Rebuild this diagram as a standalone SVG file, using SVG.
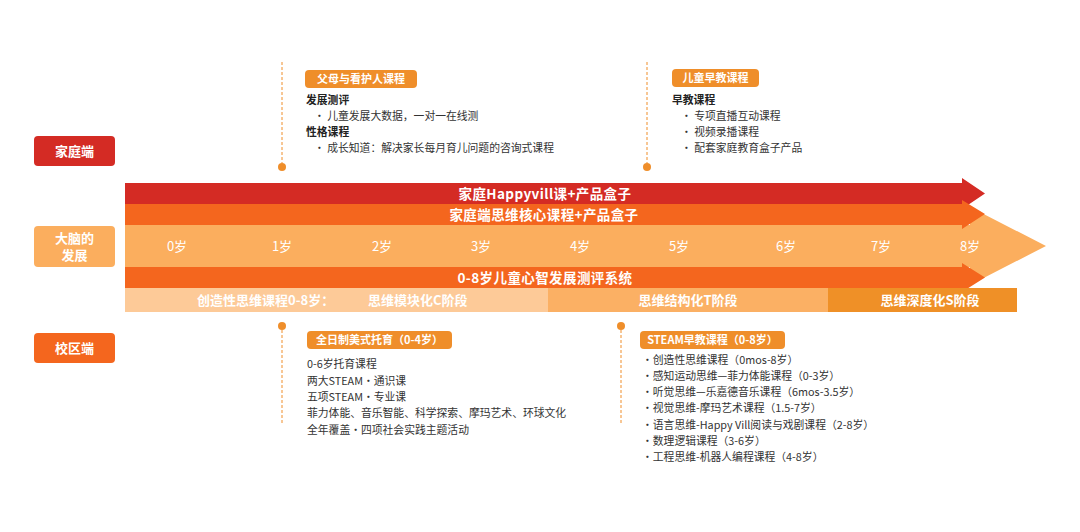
<svg xmlns="http://www.w3.org/2000/svg" width="1080" height="532" viewBox="0 0 1080 532">
<style>
text{font-family:"Noto Sans CJK SC","Noto Sans",sans-serif}
.lbl{fill:#fff;font-size:13px;font-weight:bold;text-anchor:middle}
.bar{fill:#fff;font-size:13.5px;font-weight:bold;text-anchor:middle;letter-spacing:0.4px}
.age{fill:#fff;font-size:13px;text-anchor:middle}
.band{fill:#fff;font-size:13px;font-weight:bold}
.tag{fill:#fff;font-size:11px;font-weight:bold}
.b{fill:#333;font-size:10.8px}
.h{fill:#222;font-size:10.8px;font-weight:bold}
.dash{stroke:#EF8E2A;stroke-width:1;stroke-dasharray:3 2;fill:none}
.dot{fill:#EF8E2A}
.tagbox{fill:#EF8E2A}
</style>
<rect width="1080" height="532" fill="#fff"/>

<g id="label-home"><rect x="34" y="136" width="81" height="30" rx="4" fill="#D42B24"/><text class="lbl" x="74.5" y="156">家庭端</text></g>
<g id="label-brain"><rect x="34" y="226" width="81" height="41" rx="4" fill="#FBAE5E"/><text class="lbl" x="74.5" y="243">大脑的</text><text class="lbl" x="74.5" y="260">发展</text></g>
<g id="label-campus"><rect x="34" y="333" width="81" height="30" rx="4" fill="#F4661E"/><text class="lbl" x="74.5" y="353">校区端</text></g>

<g id="timeline">
<polygon points="125,225 970,225 970,207 1046,246 970,285 970,267 125,267" fill="#FBAE5E"/>
<polygon points="125,183 962,183 962,178 985,193.5 962,209 962,204 125,204" fill="#D42B24"/>
<polygon points="125,204 962,204 962,200 985,214 962,229 962,225 125,225" fill="#F4661E"/>
<polygon points="125,267 962,267 962,263 985,277.5 962,292 962,288 125,288" fill="#F4661E"/>
<rect x="125" y="288" width="423" height="24" fill="#FDCA98"/>
<rect x="548" y="288" width="280" height="24" fill="#FBB064"/>
<rect x="828" y="288" width="189" height="24" fill="#EF9027"/>
<text class="bar" x="545" y="198.5">家庭Happyvill课+产品盒子</text>
<text class="bar" x="544" y="219.5">家庭端思维核心课程+产品盒子</text>
<text class="bar" x="545" y="282.5">0-8岁儿童心智发展测评系统</text>
<text class="age" x="177" y="251">0岁</text>
<text class="age" x="282" y="251">1岁</text>
<text class="age" x="382" y="251">2岁</text>
<text class="age" x="481" y="251">3岁</text>
<text class="age" x="580" y="251">4岁</text>
<text class="age" x="679" y="251">5岁</text>
<text class="age" x="786" y="251">6岁</text>
<text class="age" x="881" y="251">7岁</text>
<text class="age" x="970" y="251">8岁</text>
<text class="band" x="197" y="305">创造性思维课程0-8岁：</text>
<text class="band" x="368" y="305" font-weight="normal">思维模块化C阶段</text>
<text class="band" x="688" y="305" text-anchor="middle">思维结构化T阶段</text>
<text class="band" x="930" y="305" text-anchor="middle">思维深度化S阶段</text>
</g>

<g id="connectors">
<line class="dash" x1="282" y1="62" x2="282" y2="163"/>
<line class="dash" x1="647" y1="62" x2="647" y2="163"/>
<line class="dash" x1="282" y1="330" x2="282" y2="424"/>
<line class="dash" x1="621" y1="330" x2="621" y2="424"/>
<circle class="dot" cx="282" cy="167" r="4"/>
<circle class="dot" cx="647" cy="167" r="4"/>
<circle class="dot" cx="282" cy="326" r="4"/>
<circle class="dot" cx="621" cy="326" r="4"/>
</g>

<g id="callout-parents">
<rect class="tagbox" x="305" y="70" width="112" height="18" rx="4"/>
<text class="tag" x="361" y="83" text-anchor="middle">父母与看护人课程</text>
<text class="h" x="306" y="104">发展测评</text>
<text class="b" x="314" y="120">•  儿童发展大数据，一对一在线测</text>
<text class="h" x="306" y="136">性格课程</text>
<text class="b" x="314" y="152">•  成长知道：解决家长每月育儿问题的咨询式课程</text>
</g>

<g id="callout-early">
<rect class="tagbox" x="672" y="69" width="87" height="18" rx="4"/>
<text class="tag" x="715.5" y="82" text-anchor="middle">儿童早教课程</text>
<text class="h" x="672" y="104">早教课程</text>
<text class="b" x="681" y="120">•  专项直播互动课程</text>
<text class="b" x="681" y="136">•  视频录播课程</text>
<text class="b" x="681" y="152">•   配套家庭教育盒子产品</text>
</g>

<g id="callout-daycare">
<rect class="tagbox" x="307" y="331" width="145" height="18" rx="4"/>
<text class="tag" x="379.5" y="344" text-anchor="middle">全日制美式托育（0-4岁）</text>
<text class="b" x="307" y="368">0-6岁托育课程</text>
<text class="b" x="307" y="385">两大STEAM·通识课</text>
<text class="b" x="307" y="401">五项STEAM·专业课</text>
<text class="b" x="307" y="417">菲力体能、音乐智能、科学探索、摩玛艺术、环球文化</text>
<text class="b" x="307" y="434">全年覆盖·四项社会实践主题活动</text>
</g>

<g id="callout-steam">
<rect class="tagbox" x="640" y="331" width="145" height="18" rx="4"/>
<text class="tag" x="712.5" y="344" text-anchor="middle">STEAM早教课程（0-8岁）</text>
<text class="b" x="642" y="364">·创造性思维课程（0mos-8岁）</text>
<text class="b" x="642" y="380">·感知运动思维—菲力体能课程（0-3岁）</text>
<text class="b" x="642" y="396">·听觉思维—乐嘉德音乐课程（6mos-3.5岁）</text>
<text class="b" x="642" y="412">·视觉思维-摩玛艺术课程（1.5-7岁）</text>
<text class="b" x="642" y="429">·语言思维-Happy Vill阅读与戏剧课程（2-8岁）</text>
<text class="b" x="642" y="445">·数理逻辑课程（3-6岁）</text>
<text class="b" x="642" y="461">·工程思维-机器人编程课程（4-8岁）</text>
</g>
</svg>
